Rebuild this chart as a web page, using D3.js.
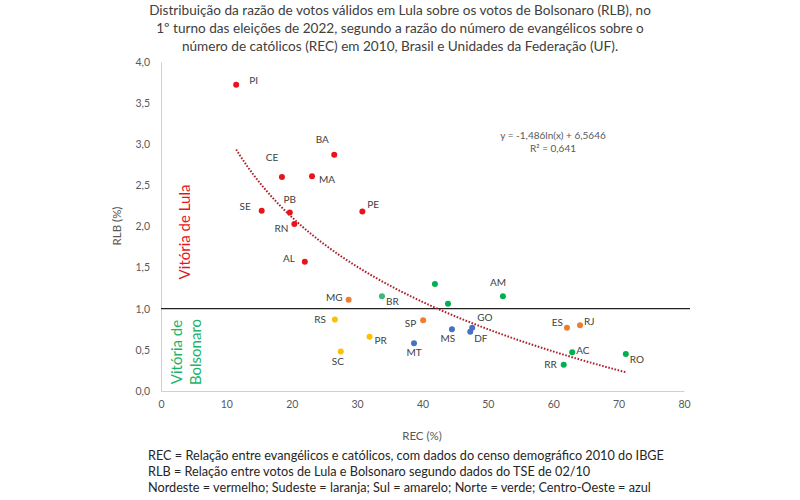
<!DOCTYPE html>
<html><head><meta charset="utf-8">
<script src="https://cdn.jsdelivr.net/npm/d3@7"></script>
<style>body{margin:0;background:#fff}svg{display:block}text{font-family:Lato,"Open Sans",sans-serif}</style>
</head><body><svg id="c" width="800" height="500"></svg>
<script>
// ---- data ----
const ufs    = ["PI","BA","CE","MA","SE","PB","RN","PE","AL","MG","BR","PA","TO","AM","RS","SP","MS","GO","DF","PR","MT","SC","ES","RJ","AC","RR","RO"];
const labels = ["PI","BA","CE","MA","SE","PB","RN","PE","AL","MG","BR","","","AM","RS","SP","MS","GO","DF","PR","MT","SC","ES","RJ","AC","RR","RO"];
const regions= ["NE","NE","NE","NE","NE","NE","NE","NE","NE","SE","BR","N","N","N","S","SE","CO","CO","CO","S","CO","S","SE","SE","N","N","N"];
const rec    = [11.5,26.5,18.5,23.1,15.4,19.7,20.4,30.8,22.0,28.7,33.8,41.9,43.9,52.3,26.6,40.1,44.5,47.6,47.3,31.9,38.7,27.5,62.1,64.1,62.9,61.6,71.1];
const rlb    = [3.72,2.87,2.60,2.61,2.19,2.17,2.03,2.18,1.57,1.11,1.15,1.30,1.06,1.15,0.87,0.86,0.75,0.77,0.72,0.66,0.58,0.48,0.77,0.80,0.47,0.32,0.45];
const xTicks = [0,10,20,30,40,50,60,70,80];
const yTicks = [0,0.5,1,1.5,2,2.5,3,3.5,4];
const trendA = -1.486, trendB = 6.5646, r2 = "0,641";
const titleLines = [
 "Distribuição da razão de votos válidos em Lula sobre os votos de Bolsonaro (RLB), no",
 "1º turno das eleições de 2022, segundo a razão do número de evangélicos sobre o",
 "número de católicos (REC) em 2010, Brasil e Unidades da Federação (UF)."];
const notes = [
 "REC = Relação entre evangélicos e católicos, com dados do censo demográfico 2010 do IBGE",
 "RLB = Relação entre votos de Lula e Bolsonaro segundo dados do TSE de 02/10",
 "Nordeste = vermelho; Sudeste = laranja; Sul = amarelo; Norte = verde; Centro-Oeste = azul"];

// ---- styles ----
const colors = {NE:"#e8141c",SE:"#ed7d31",S:"#ffc000",N:"#00b050",CO:"#4472c4",BR:"#3cb878"};
const labelOff = {PI:[13,-4,"start"],BA:[-12,-15,"middle"],CE:[-10,-20,"middle"],MA:[7,3,"start"],SE:[-11,-4,"end"],
 PB:[0,-13,"middle"],RN:[-6,5,"end"],PE:[5,-7,"start"],AL:[-10,-3,"end"],MG:[-6,-2,"end"],BR:[4,5,"start"],
 AM:[-5,-14,"middle"],RS:[-9,0,"end"],SP:[-7,3,"end"],GO:[5,-10,"start"],MS:[-4,9,"middle"],DF:[4,7,"start"],
 PR:[5,4,"start"],MT:[0,9,"middle"],SC:[-3,10,"middle"],ES:[-4,-5,"end"],RJ:[4,-4,"start"],AC:[4,-2,"start"],
 RR:[-7,0,"end"],RO:[4,6,"start"]};

const svg = d3.select("#c");
const x = d3.scaleLinear().domain([0,80]).range([161,684]);
const y = d3.scaleLinear().domain([0,4]).range([391,61.8]);

// title
svg.append("g").selectAll("text").data(titleLines).join("text")
  .attr("x",400).attr("y",(d,i)=>15+i*18).attr("text-anchor","middle")
  .attr("font-size",13.6).attr("fill","#404040").text(d=>d);

// axes
const ax = svg.append("g").attr("transform",`translate(0,${y(0)})`)
  .call(d3.axisBottom(x).tickValues(xTicks).tickSize(0).tickPadding(10).tickFormat(d3.format("d")));
ax.select(".domain").attr("stroke","#d0d0d0");
ax.selectAll("text").attr("fill","#595959").attr("font-size",10.5).style("font-family","Lato,sans-serif");
const ay = svg.append("g").attr("transform",`translate(${x(0)},0)`)
  .call(d3.axisLeft(y).tickValues(yTicks).tickSize(0).tickPadding(11).tickFormat(d=>d3.format(".1f")(d).replace(".",",")));
ay.select(".domain").attr("stroke","#d0d0d0");
ay.selectAll("text").attr("fill","#595959").attr("font-size",10.5).style("font-family","Lato,sans-serif");

// axis titles
svg.append("text").attr("x",422).attr("y",440).attr("text-anchor","middle").attr("font-size",11.5).attr("fill","#595959").text("REC (%)");
svg.append("text").attr("transform","translate(121,226) rotate(-90)").attr("text-anchor","middle").attr("font-size",11.5).attr("fill","#595959").text("RLB (%)");

// threshold line
svg.append("line").attr("x1",x(0)).attr("x2",690).attr("y1",y(1)).attr("y2",y(1)).attr("stroke","#222").attr("stroke-width",1.3);

// zone labels
svg.append("text").attr("transform","translate(190,232) rotate(-90)").attr("text-anchor","middle")
  .attr("font-size",15).attr("fill","#e8141c").text("Vitória de Lula");
const vb = svg.append("text").attr("transform","translate(182,352) rotate(-90)").attr("text-anchor","middle")
  .attr("font-size",15).attr("fill","#1db365");
vb.append("tspan").attr("x",0).attr("dy",0).text("Vitória de");
vb.append("tspan").attr("x",0).attr("dy",19).text("Bolsonaro");

// trend line
const [xmin,xmax] = d3.extent(rec);
const tx = d3.range(xmin, xmax+0.001, (xmax-xmin)/100);
svg.append("path").datum(tx).attr("fill","none").attr("stroke","#b0202a").attr("stroke-width",2)
  .attr("stroke-dasharray","1.6 1.6")
  .attr("d",d3.line().x(d=>x(d)).y(d=>y(trendA*Math.log(d)+trendB)));

svg.append("text").attr("x",553).attr("y",139).attr("text-anchor","middle").attr("font-size",10).attr("fill","#595959").text("y = -1,486ln(x) + 6,5646");
svg.append("text").attr("x",553).attr("y",152).attr("text-anchor","middle").attr("font-size",10).attr("fill","#595959").text("R² = "+r2);

// points
const pts = ufs.map((u,i)=>({u,lab:labels[i],reg:regions[i],x:rec[i],y:rlb[i]}));
svg.append("g").selectAll("circle").data(pts).join("circle")
  .attr("cx",d=>x(d.x)).attr("cy",d=>y(d.y)).attr("r",3).attr("fill",d=>colors[d.reg]);
svg.append("g").selectAll("text").data(pts.filter(d=>d.lab)).join("text")
  .attr("x",d=>x(d.x)+labelOff[d.lab][0]).attr("y",d=>y(d.y)+labelOff[d.lab][1]).attr("dy","0.35em")
  .attr("text-anchor",d=>labelOff[d.lab][2]).attr("font-size",10).attr("fill","#404040").text(d=>d.lab);

// notes
svg.append("g").selectAll("text").data(notes).join("text")
  .attr("x",148).attr("y",(d,i)=>460+i*16).attr("font-size",12.7).attr("fill","#262626").text(d=>d);
</script></body></html>
